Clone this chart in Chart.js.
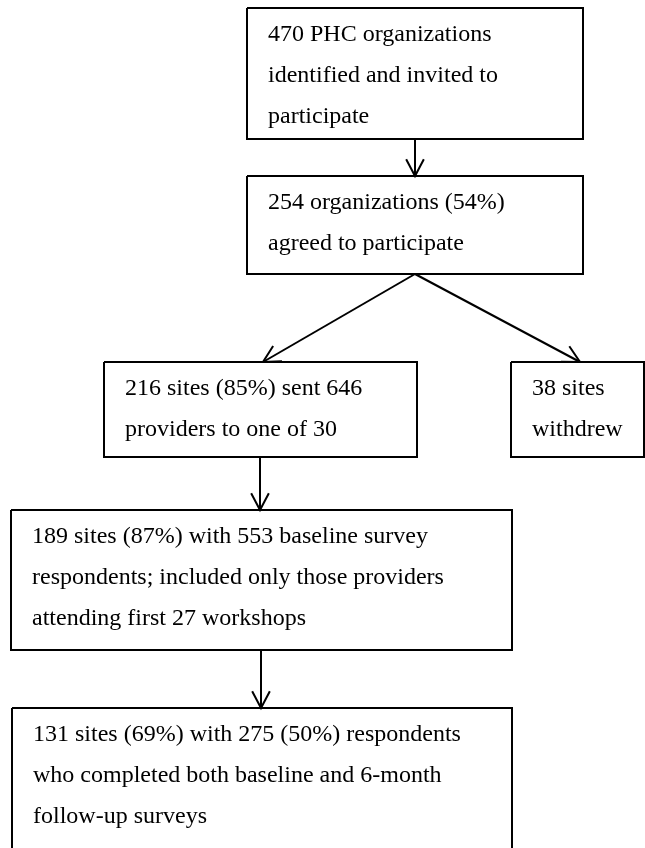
<!DOCTYPE html>
<html>
<head>
<meta charset="utf-8">
<script src="https://cdn.jsdelivr.net/npm/chart.js@4"></script>
<style>
  html, body { margin: 0; padding: 0; background: #fff; }
  #flow { display: block; }
</style>
</head>
<body>
<canvas id="flow" width="645" height="848"></canvas>
<script>
// flowchart content
const boxText = [
  ["470 PHC organizations", "identified and invited to", "participate"],
  ["254 organizations (54%)", "agreed to participate"],
  ["216 sites (85%) sent 646", "providers to one of 30"],
  ["38 sites", "withdrew"],
  ["189 sites (87%) with 553 baseline survey", "respondents; included only those providers", "attending first 27 workshops"],
  ["131 sites (69%) with 275 (50%) respondents", "who completed both baseline and 6-month", "follow-up surveys"]
];
const boxLeft = [247, 247, 104, 511, 11, 12];
const boxRight = [583, 583, 417, 644, 512, 512];
const boxTop = [8, 176, 362, 362, 510, 708];
const boxBottom = [139, 274, 457, 457, 650, 880];

// arrows: start and end points
const arrowFromX = [415, 415, 415, 260, 261];
const arrowFromY = [139, 274, 274, 457, 650];
const arrowToX = [415, 263, 580, 260, 261];
const arrowToY = [176, 362, 362, 510, 708];

const W = 645, H = 848;

const datasets = [];

// box outlines
boxText.forEach((_, i) => {
  datasets.push({
    data: [
      { x: boxLeft[i], y: boxTop[i] },
      { x: boxRight[i], y: boxTop[i] },
      { x: boxRight[i], y: boxBottom[i] },
      { x: boxLeft[i], y: boxBottom[i] },
      { x: boxLeft[i], y: boxTop[i] }
    ],
    showLine: true,
    borderColor: "#000",
    borderWidth: 2,
    pointRadius: 0,
    borderJoinStyle: "miter",
    tension: 0
  });
});

// arrow shafts and heads
arrowFromX.forEach((_, i) => {
  const x0 = arrowFromX[i], y0 = arrowFromY[i];
  const x1 = arrowToX[i], y1 = arrowToY[i];
  datasets.push({
    data: [{ x: x0, y: y0 }, { x: x1, y: y1 }],
    showLine: true,
    borderColor: "#000",
    borderWidth: 2,
    pointRadius: 0
  });
  const ang = Math.atan2(y1 - y0, x1 - x0);
  const len = 19, spread = Math.PI / 6.5;
  datasets.push({
    data: [
      { x: x1 - len * Math.cos(ang - spread), y: y1 - len * Math.sin(ang - spread) },
      { x: x1, y: y1 },
      { x: x1 - len * Math.cos(ang + spread), y: y1 - len * Math.sin(ang + spread) }
    ],
    showLine: true,
    borderColor: "#000",
    borderWidth: 2,
    pointRadius: 0,
    borderJoinStyle: "miter"
  });
});

// writes the box labels
const boxLabels = {
  id: "boxLabels",
  afterDatasetsDraw(chart) {
    const ctx = chart.ctx;
    const xs = chart.scales.x, ys = chart.scales.y;
    ctx.save();
    ctx.fillStyle = "#000";
    ctx.font = '24px "Liberation Serif", "Times New Roman", serif';
    ctx.textAlign = "left";
    ctx.textBaseline = "alphabetic";
    boxText.forEach((lines, i) => {
      lines.forEach((line, j) => {
        ctx.fillText(line, xs.getPixelForValue(boxLeft[i] + 21), ys.getPixelForValue(boxTop[i] + 33 + j * 41));
      });
    });
    ctx.restore();
  }
};

const whiteBg = {
  id: "whiteBg",
  beforeDraw(chart) {
    const ctx = chart.ctx;
    ctx.save();
    ctx.fillStyle = "#fff";
    ctx.fillRect(0, 0, chart.width, chart.height);
    ctx.restore();
  }
};

new Chart(document.getElementById("flow"), {
  type: "scatter",
  data: { datasets: datasets },
  options: {
    responsive: false,
    animation: false,
    layout: { padding: 0 },
    plugins: { legend: { display: false }, tooltip: { enabled: false } },
    elements: { line: { fill: false } },
    scales: {
      x: { type: "linear", min: 0, max: W, display: false },
      y: { type: "linear", min: 0, max: H, reverse: true, display: false }
    }
  },
  plugins: [whiteBg, boxLabels]
});
</script>
</body>
</html>
